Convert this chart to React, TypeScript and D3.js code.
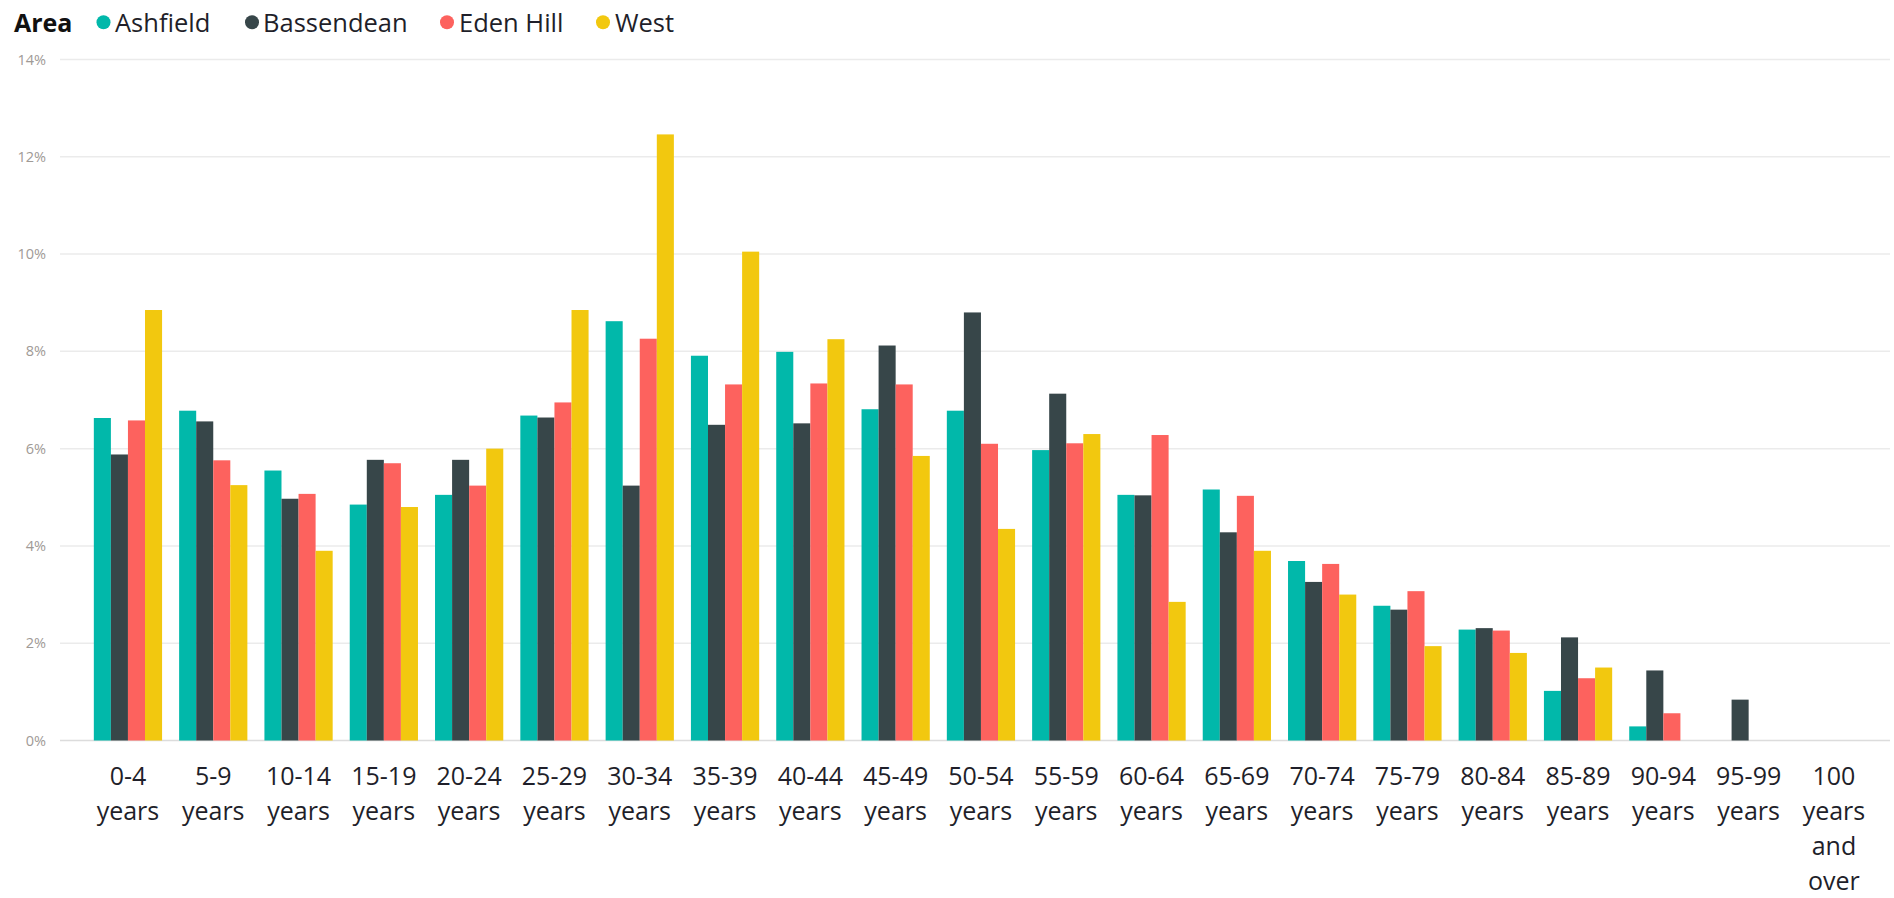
import React from "react";
import * as d3 from "d3";

const categories = [
  "0-4 years", "5-9 years", "10-14 years", "15-19 years", "20-24 years",
  "25-29 years", "30-34 years", "35-39 years", "40-44 years", "45-49 years",
  "50-54 years", "55-59 years", "60-64 years", "65-69 years", "70-74 years",
  "75-79 years", "80-84 years", "85-89 years", "90-94 years", "95-99 years",
  "100 years and over",
];
const seriesNames = ["Ashfield", "Bassendean", "Eden Hill", "West"];
const colors = ["#01B8AA", "#374649", "#FD625E", "#F2C80F"];

const ashfield = [6.63, 6.78, 5.55, 4.85, 5.05, 6.68, 8.62, 7.91, 7.99, 6.81, 6.78, 5.97, 5.05, 5.16, 3.69, 2.77, 2.28, 1.02, 0.29, 0, 0];
const bassendean = [5.88, 6.56, 4.97, 5.77, 5.77, 6.64, 5.24, 6.49, 6.52, 8.12, 8.80, 7.13, 5.04, 4.28, 3.26, 2.69, 2.31, 2.12, 1.44, 0.84, 0];
const edenHill = [6.58, 5.76, 5.07, 5.70, 5.24, 6.95, 8.26, 7.32, 7.34, 7.32, 6.10, 6.11, 6.28, 5.03, 3.63, 3.07, 2.26, 1.28, 0.56, 0, 0];
const west = [8.85, 5.25, 3.90, 4.80, 6.00, 8.85, 12.46, 10.05, 8.25, 5.85, 4.35, 6.30, 2.85, 3.90, 3.00, 1.94, 1.80, 1.50, 0, 0, 0];
const yTicks = [0, 2, 4, 6, 8, 10, 12, 14];

const seriesValues = [ashfield, bassendean, edenHill, west];

const W = 1894;
const H = 898;
const FONT = "'Open Sans', 'Noto Sans', sans-serif";

export default function App() {
  const x = d3.scaleBand<string>()
    .domain(categories)
    .range([85.3, 1876.6])
    .paddingInner(0.2)
    .paddingOuter(0.1);
  const x1 = d3.scaleBand<string>()
    .domain(seriesNames)
    .range([0, x.bandwidth()]);
  const y = d3.scaleLinear().domain([0, 14]).range([740.5, 59.5]);

  const legendItems = [
    { name: seriesNames[0], dot: 103.5, text: 115 },
    { name: seriesNames[1], dot: 252, text: 263 },
    { name: seriesNames[2], dot: 447, text: 459 },
    { name: seriesNames[3], dot: 603, text: 615 },
  ];

  return (
    <svg
      width={W}
      height={H}
      style={{ position: "absolute", left: 0, top: 0, background: "#fff" }}
      fontFamily={FONT}
    >
      {/* legend */}
      <text x={14} y={31.5} fontSize={25} fontWeight={700} fill="#111">Area</text>
      {legendItems.map((it, i) => (
        <g key={it.name}>
          <circle cx={it.dot} cy={22.3} r={7} fill={colors[i]} />
          <text x={it.text} y={31.5} fontSize={25.5} fill="#1f1f2a">{it.name}</text>
        </g>
      ))}

      {/* gridlines & y ticks */}
      {yTicks.map((t) => (
        <g key={t}>
          <line x1={60} x2={1890} y1={y(t)} y2={y(t)} stroke={t === 0 ? "#dcdcdc" : "#ebebeb"} strokeWidth={1.5} />
          <text x={46} y={y(t)} dy="0.35em" textAnchor="end" fontSize={14.5} fill="#a09a96">{`${t}%`}</text>
        </g>
      ))}

      {/* bars */}
      {categories.map((c, ci) => (
        <g key={c} transform={`translate(${x(c)},0)`}>
          {seriesNames.map((s, si) => {
            const v = seriesValues[si][ci];
            if (!v) return null;
            return (
              <rect
                key={s}
                x={x1(s)}
                y={y(v)}
                width={x1.bandwidth()}
                height={y(0) - y(v)}
                fill={colors[si]}
              />
            );
          })}
        </g>
      ))}

      {/* x labels */}
      {categories.map((c) => {
        const words = c.split(" ");
        const lines = words.length > 2 ? words : [words[0], words.slice(1).join(" ")];
        const cx = (x(c) as number) + x.bandwidth() / 2;
        return (
          <text key={c} x={cx} textAnchor="middle" fontSize={25} fill="#1f1f2a">
            {lines.map((l, li) => (
              <tspan key={li} x={cx} y={785 + li * 35}>{l}</tspan>
            ))}
          </text>
        );
      })}
    </svg>
  );
}
